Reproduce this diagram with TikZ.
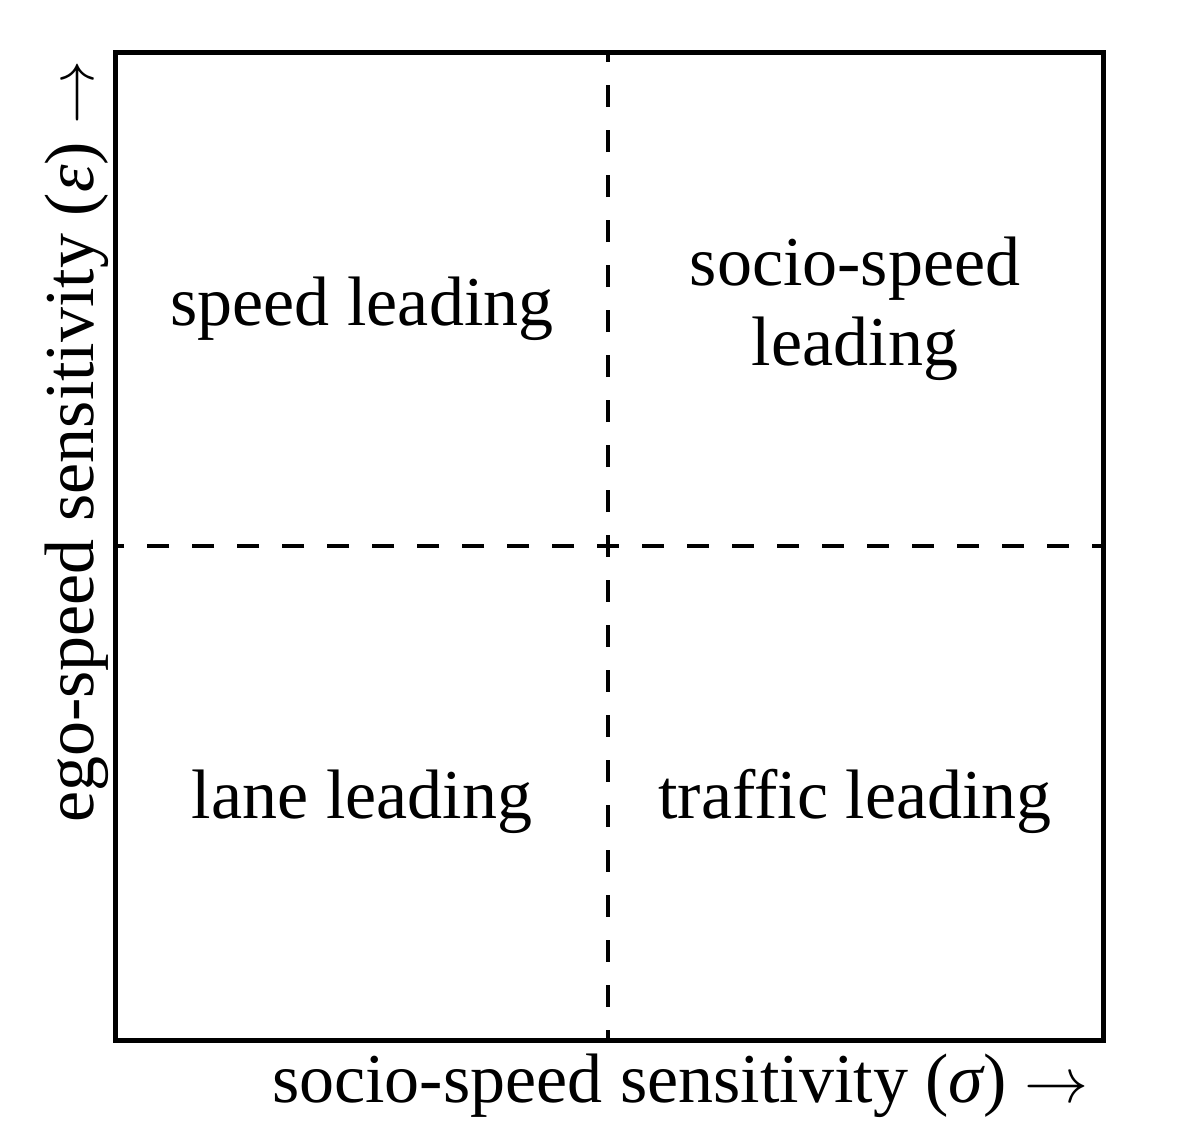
\documentclass[tikz,border=0pt]{standalone}
\usepackage{fontspec}
\setmainfont{Liberation Serif}
\newcommand{\bigarr}{\resizebox{64pt}{!}{$\rightarrow$}}
\begin{document}
\begin{tikzpicture}[x=1pt,y=-1pt,
  lbl/.style={font=\fontsize{70}{80}\selectfont, inner sep=0pt, anchor=base, align=center},
  frame/.style={line width=5pt},
  quad/.style={line width=4pt, dash pattern=on 22pt off 23pt, dash phase=11pt}]
\useasboundingbox[fill=white] (0,0) rectangle (1179,1148);
\coordinate (c) at (608,546);
\coordinate (t) at (608,53);
\coordinate (b) at (608,1040);
\coordinate (l) at (115,546);
\coordinate (r) at (1103,546);
\draw[quad] (c) -- (t);
\draw[quad] (c) -- (b);
\draw[quad] (c) -- (l);
\draw[quad] (c) -- (r);
\draw[frame] (115,53) rectangle (1103,1040);
\node[lbl] (sl) at (362,325) {speed leading};
\node[lbl] (ssl) at (855,285) {socio-speed};
\node[lbl] (ssl2) at (855,365) {leading};
\node[lbl] (ll) at (362,818) {lane leading};
\node[lbl] (tl) at (855,818) {traffic leading};
\node[lbl, anchor=base west] (xl) at (272,1102) {socio-speed sensitivity ({\itshape σ}) \bigarr};
\node[lbl, anchor=base west, rotate=90] (yl) at (93,823) {ego-speed sensitivity ({\itshape ε}) \bigarr};
\end{tikzpicture}
\end{document}
